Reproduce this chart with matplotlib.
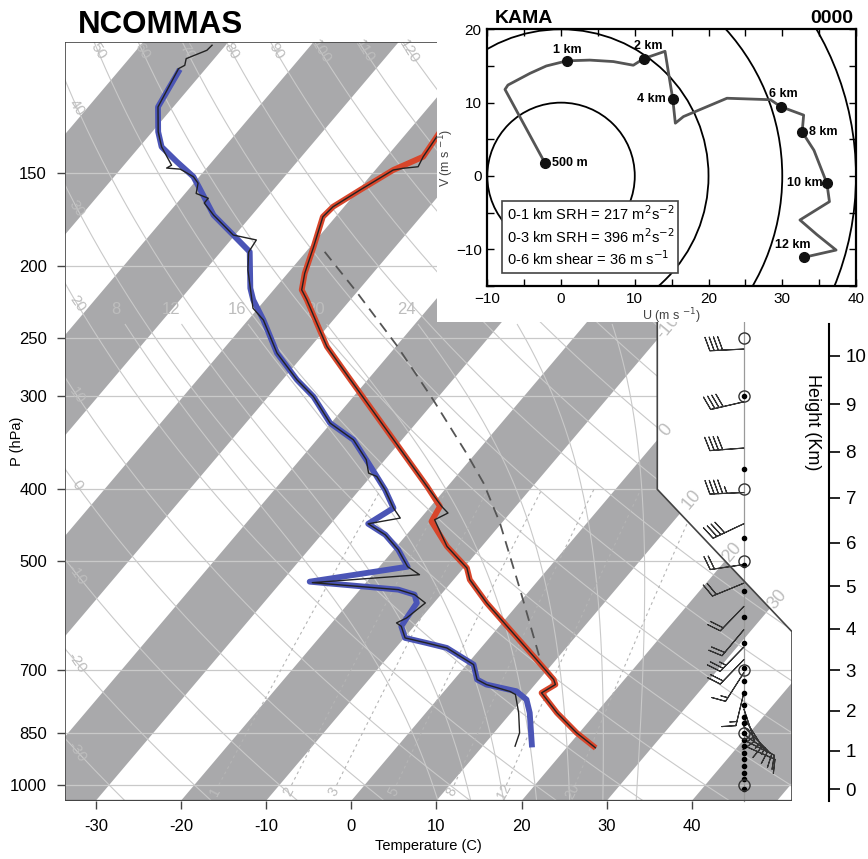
import numpy as np
import matplotlib
import matplotlib.pyplot as plt
from matplotlib.patches import Polygon, Rectangle, Circle
from matplotlib.transforms import Affine2D

matplotlib.use('Agg')
plt.rcParams['font.family'] = ['Liberation Sans', 'DejaVu Sans']

# ---- sounding (degC, hPa) ----
temp_p = [119.8, 134.1, 142.7, 148.7, 158.2, 166.6, 171.9, 188.6, 204.8, 215.6,
          222.4, 244.1, 257.0, 282.1, 336.1, 396.5, 421.8, 441.9, 477.4, 510.5,
          529.3, 568.9, 617.9, 678.1, 721.3, 732.6, 751.7, 799.7, 850.8, 886.8]
temp_c = [-56.9, -56.1, -55.7, -57.9, -59.8, -61.3, -61.5, -59.6, -58.0, -56.7,
          -55.1, -50.6, -48.1, -42.6, -32.2, -22.4, -18.9, -18.4, -14.1, -9.6,
          -8.1, -3.8, 1.6, 7.7, 11.7, 12.4, 11.6, 15.4, 19.7, 23.0]

obs_t_p = [119.8, 134.1, 142.7, 147.2, 147.9, 148.7, 158.2, 166.6, 171.9, 188.6,
           204.8, 215.6, 222.4, 244.1, 257.0, 282.1, 336.1, 396.5, 421.8, 430.5,
           439.6, 477.4, 510.5, 529.3, 568.9, 617.9, 678.1, 721.3, 732.6, 751.7,
           799.7, 850.8, 891.2]
obs_t_c = [-56.9, -56.1, -55.7, -55.3, -56.9, -57.9, -59.8, -61.3, -61.5, -59.6,
           -58.0, -56.7, -55.1, -50.6, -48.1, -42.6, -32.2, -22.4, -18.7, -17.3,
           -18.2, -14.1, -9.6, -8.1, -3.8, 1.6, 7.7, 11.7, 12.4, 11.6,
           15.4, 19.7, 23.4]

dwpt_p = [109.7, 122.3, 132.1, 138.4, 145.0, 151.8, 157.4, 171.0, 181.9, 191.6,
          214.5, 222.4, 236.7, 262.3, 284.9, 300.1, 325.8, 343.1, 365.0, 384.4,
          400.6, 423.9, 445.1, 460.5, 482.3, 508.4, 532.6, 545.9, 554.4, 568.9,
          595.9, 611.6, 634.0, 643.9, 654.0, 688.6, 721.3, 732.6, 748.0, 767.5,
          799.7, 882.1]
dwpt_c = [-92.9, -91.8, -89.3, -87.4, -84.1, -80.7, -78.8, -74.5, -70.2, -66.6,
          -62.9, -61.4, -58.2, -53.3, -48.3, -44.7, -40.1, -35.7, -32.2, -29.3,
          -27.0, -24.2, -25.6, -22.5, -19.5, -16.7, -26.7, -15.5, -13.1, -12.0,
          -11.7, -11.5, -9.9, -6.9, -4.0, 0.8, 2.7, 4.3, 8.5, 10.5,
          12.2, 15.6]

obs_d_p = [101.0, 102.6, 105.3, 107.5, 108.6, 122.3, 132.1, 138.4, 146.5, 147.8,
           148.3, 151.8, 154.9, 159.9, 162.3, 164.7, 171.0, 181.9, 184.7, 191.8,
           202.7, 214.5, 228.2, 236.7, 262.3, 284.9, 300.1, 325.8, 343.1, 365.0,
           380.4, 384.4, 400.6, 423.9, 437.3, 445.1, 460.5, 482.3, 508.4, 521.2,
           534.2, 545.9, 554.4, 568.9, 595.9, 605.2, 611.6, 634.0, 643.9, 654.0,
           688.6, 721.3, 732.6, 748.7, 755.6, 799.7, 850.8, 886.8]
obs_d_c = [-91.6, -91.7, -93.3, -92.8, -93.2, -91.8, -89.3, -87.4, -84.4, -84.7,
           -83.0, -80.7, -79.5, -78.7, -76.8, -76.8, -74.5, -70.2, -67.0, -66.7,
           -65.0, -62.9, -60.6, -58.2, -53.3, -48.3, -44.7, -40.1, -35.7, -32.2,
           -30.6, -29.3, -27.0, -24.2, -22.4, -25.6, -22.5, -19.5, -16.7, -14.5,
           -26.3, -15.5, -13.1, -11.0, -11.7, -12.4, -11.5, -9.9, -6.9, -4.0,
           0.8, 2.7, 4.3, 7.8, 8.7, 10.9, 13.0, 13.8]

parcel_p = [191.6, 216.8, 255.7, 303.2, 357.6, 392.4, 444.1, 545.9, 674.5]
parcel_c = [-57.8, -50.1, -40.1, -30.3, -21.1, -16.1, -10.2, -1.2, 7.9]

# wind barbs (m/s)
barb_p = [259, 305, 352, 404, 445, 505, 535, 575, 618, 652, 678, 706, 751,
          790, 812, 835, 855, 870, 885]
barb_u = [40, 39, 40, 45, 36, 20, 18.5, 14, 13, 17.5, 14, 8, 3.5,
          -4, -7, -9, -10, -10, -9]
barb_v = [2, 9, 3, 2, 17, 3, 7.6, 14.5, 15.5, 18, 14.5, 12.5, 14.5,
          12, 11, 9, 7, 5, 4]
dot_p = [300, 376, 465, 505, 549, 595, 644, 696, 725, 752, 781, 810, 825,
         851, 869, 887, 905, 924, 943, 963, 983, 1014]
ring_p = [250, 300, 400, 500, 700, 850, 1000]

# hodograph
hodo_u = [-2.2, -7.6, -7.2, -4.2, -2.0, 0.8, 3.9, 7.1, 9.8, 11.2, 14.1, 15.15, 15.5,
          16.6, 22.5, 28.4, 29.8, 32.9, 32.7, 34.3, 36.05, 36.4, 32.4, 34.7, 37.3, 32.9]
hodo_v = [1.8, 11.8, 12.4, 14.0, 15.0, 15.7, 15.8, 15.6, 15.1, 16.0, 17.0, 10.5, 7.2,
          8.1, 10.6, 10.4, 9.45, 8.3, 6.0, 3.5, -1.0, -3.5, -6.0, -8.0, -10.1, -11.1]
mark_lbl = ['500 m', '1 km', '2 km', '4 km', '6 km', '8 km', '10 km', '12 km']
mark_u = [-2.2, 0.8, 11.2, 15.15, 29.8, 32.7, 36.05, 32.9]
mark_v = [1.8, 15.7, 16.0, 10.5, 9.45, 6.0, -1.0, -11.1]
stats = ['0-1 km SRH = 217 m$^2$s$^{-2}$',
         '0-3 km SRH = 396 m$^2$s$^{-2}$',
         '0-6 km shear = 36 m s$^{-1}$']

P_BOT, P_TOP = 1050., 100.
X_MIN, X_MAX = -33.62, 51.75
SKEW = 32.138          # degC per ln(p), NCL skewT geometry
W_PX, H_PX = 868, 859

fig = plt.figure(figsize=(W_PX / 100, H_PX / 100), dpi=100)
ax = fig.add_axes([65 / W_PX, 58.3 / H_PX, 727 / W_PX, 758.7 / H_PX])
ax.set_yscale('log')
ax.set_xlim(X_MIN, X_MAX)
ax.set_ylim(P_BOT, P_TOP)
for sp in ax.spines.values():
    sp.set_visible(False)

bb = ax.get_position()
x0, y0 = bb.x0 * W_PX, bb.y0 * H_PX
s = SKEW * (bb.width * W_PX / (X_MAX - X_MIN)) / (bb.height * H_PX / np.log(P_BOT / P_TOP))
skew = ax.transData + Affine2D().translate(-x0, -y0).skew(np.arctan(s), 0).translate(x0, y0)


def xpos(t, p):
    return np.asarray(t) + SKEW * np.log(P_BOT / np.asarray(p))


outline = Polygon([(0, 0), (0, 1), (0.8147, 1), (0.8147, 0.4104), (1, 0.2228), (1, 0)],
                  closed=True, transform=ax.transAxes, facecolor='none',
                  edgecolor='#444444', lw=1.2, zorder=8)
ax.add_patch(outline)


def clipped(arts):
    for a in arts:
        a.set_clip_path(outline)


# shaded isotherm bands
for t0 in range(-120, 60, 20):
    band = Polygon([(t0, P_BOT), (t0 + 10, P_BOT), (t0 + 10, P_TOP), (t0, P_TOP)],
                   transform=skew, facecolor='#a9a9ab', edgecolor='none', zorder=1)
    ax.add_patch(band)
    band.set_clip_path(outline)

LINE_C = '#c9c9c9'
LBL_C = '#bdbdbd'
isobars = [150, 200, 250, 300, 400, 500, 700, 850, 1000]
clipped([ax.axhline(p, color=LINE_C, lw=0.9, zorder=2) for p in isobars])

# dry adiabats
pp = np.geomspace(P_BOT, P_TOP, 200)
for th in range(-30, 180, 10):
    tt = (th + 273.15) * (pp / 1000.) ** 0.2857 - 273.15
    clipped(ax.plot(tt, pp, color=LINE_C, lw=0.8, transform=skew, zorder=2))
    xx = xpos(tt, pp)
    xt = np.interp(103, pp[::-1], xx[::-1])
    if X_MIN + 1 < xt < 9:
        ax.text(xt, 103, str(th), color=LBL_C, fontsize=11, rotation=-58,
                ha='center', va='center', zorder=3)
    elif xt <= X_MIN + 1 and xx[0] > X_MIN + 1.4:
        pl = np.interp(X_MIN + 1.4, xx[::-1], pp[::-1])
        tl = np.interp(pl, pp[::-1], tt[::-1])
        ax.text(tl, pl, str(th), color=LBL_C, fontsize=11, rotation=-55,
                ha='center', va='center', transform=skew, zorder=3)


# moist adiabats
def lapse(p, T):
    es = 6.112 * np.exp(17.67 * (T - 273.15) / (T - 29.65))
    rs = 0.622 * es / (p - es)
    return ((287.04 * T + 2.501e6 * rs) / p) / (1005.7 + 2.501e6 ** 2 * rs * 0.622 / (287.04 * T * T))


def moist(tw, p_end, dp):
    T = tw + 273.15
    p = 1000.
    ps, ts = [p], [T]
    while (p - p_end) * np.sign(-dp) > 1e-6:
        step = dp if abs(p_end - p) > abs(dp) else (p_end - p)
        k1 = lapse(p, T)
        k2 = lapse(p + step / 2, T + k1 * step / 2)
        k3 = lapse(p + step / 2, T + k2 * step / 2)
        k4 = lapse(p + step, T + k3 * step)
        T += step * (k1 + 2 * k2 + 2 * k3 + k4) / 6
        p += step
        ps.append(p)
        ts.append(T)
    return np.array(ps), np.array(ts) - 273.15


for tw in range(8, 36, 4):
    pu, tu = moist(tw, 229, -4.)
    pd, td = moist(tw, P_BOT, 5.)
    keep = pu >= 239
    pm = np.concatenate([pd[::-1], pu[1:][keep[1:]]])
    tm = np.concatenate([td[::-1], tu[1:][keep[1:]]])
    clipped(ax.plot(tm, pm, color=LINE_C, lw=0.8, transform=skew, zorder=2))
    if xpos(tu[-1], pu[-1]) < 9:
        ax.text(tu[-1], pu[-1], str(tw), color=LBL_C, fontsize=12,
                ha='center', va='center', transform=skew, zorder=3)

# mixing ratio lines
pw = np.geomspace(1000, 400, 60)
for w in [1, 2, 3, 5, 8, 12, 20]:
    e = w * pw / (622. + w)
    lg = np.log(e / 6.112)
    clipped(ax.plot(243.5 * lg / (17.67 - lg), pw, color='#b5b5b5', lw=0.8,
                    ls=(0, (2.5, 3)), transform=skew, zorder=2))
    e0 = w * 1020. / (622. + w)
    l0 = np.log(e0 / 6.112)
    ax.text(243.5 * l0 / (17.67 - l0), 1020, str(w), color=LBL_C, fontsize=10,
            rotation=62, ha='center', va='center', transform=skew, zorder=3)

# isotherm labels along the cut edge
for tl, pl in zip([-10, 0, 10, 20, 30], [242, 333, 413, 487, 563]):
    ax.text(tl, pl, str(tl), color=LBL_C, fontsize=13, rotation=50,
            ha='center', va='center', transform=skew, zorder=3)

# sounding
clipped(ax.plot(parcel_c, parcel_p, color='#555555', lw=1.3, ls=(0, (6, 4)),
                transform=skew, zorder=4))
clipped(ax.plot(dwpt_c, dwpt_p, color='#4b55b6', lw=4.2, transform=skew, zorder=5,
                solid_joinstyle='round'))
clipped(ax.plot(temp_c, temp_p, color='#d8462b', lw=4.2, transform=skew, zorder=5,
                solid_joinstyle='round'))
clipped(ax.plot(obs_d_c, obs_d_p, color='#222222', lw=1.0, transform=skew, zorder=6))
clipped(ax.plot(obs_t_c, obs_t_p, color='#222222', lw=1.0, transform=skew, zorder=6))

# wind profile column
X_COL = 46.1
ax.plot([X_COL, X_COL], [238, P_BOT], color='#9a9a9a', lw=0.9, zorder=6, clip_on=False)
ax.barbs(np.full(len(barb_p), X_COL), barb_p, barb_u, barb_v, length=7,
         color='#333333', lw=0.8, zorder=7, clip_on=False)
ax.plot(np.full(len(dot_p), X_COL), dot_p, 'o', ms=3, color='black', zorder=8, clip_on=False)
ax.plot(np.full(len(ring_p), X_COL), ring_p, 'o', ms=8, mfc='none', mec='#333333',
        mew=1.0, zorder=8, clip_on=False)

ax.set_xticks(range(-30, 50, 10))
ax.set_xticklabels([str(v) for v in range(-30, 50, 10)])
ax.set_yticks(isobars)
ax.set_yticklabels([str(v) for v in isobars])
ax.yaxis.set_minor_locator(matplotlib.ticker.NullLocator())
ax.tick_params(direction='out', length=6, width=1.0, color='#444444', labelsize=12, pad=7)
ax.set_xlabel('Temperature (C)', fontsize=10.5, labelpad=4)
ax.set_ylabel('P (hPa)', fontsize=10.5)
ax.yaxis.set_label_coords(-0.056, 0.474)
fig.text(78 / W_PX, 1 - 33.3 / H_PX, 'NCOMMAS', fontsize=22.5, fontweight='bold',
         va='baseline', ha='left')

# height axis
axh = fig.add_axes([828 / W_PX, 58.3 / H_PX, 0.001, 758.7 / H_PX])
axh.set_yscale('log')
axh.set_ylim(P_BOT, P_TOP)
axh.set_xticks([])
axh.patch.set_visible(False)
for k in ['left', 'top', 'bottom']:
    axh.spines[k].set_visible(False)
axh.spines['right'].set_bounds(240, P_BOT)
axh.spines['right'].set_linewidth(1.5)
hkm = np.arange(0, 11)
axh.yaxis.tick_right()
axh.set_yticks(1013.25 * (1 - 2.25577e-5 * hkm * 1000.) ** 5.25588)
axh.set_yticklabels([str(h) for h in hkm])
axh.yaxis.set_minor_locator(matplotlib.ticker.NullLocator())
axh.tick_params(direction='out', length=8, width=1.2, labelsize=13.5, pad=4)
fig.text(812 / W_PX, 1 - 422 / H_PX, 'Height (Km)', fontsize=13, rotation=-90,
         ha='center', va='center')

# white panel behind hodograph
bg = fig.add_axes([437 / W_PX, 1 - 322 / H_PX, (W_PX - 437) / W_PX, 322 / H_PX])
bg.set_facecolor('white')
bg.set_xticks([])
bg.set_yticks([])
for sp in bg.spines.values():
    sp.set_visible(False)

# hodograph
hx = fig.add_axes([487.3 / W_PX, 1 - 286 / H_PX, 368.7 / W_PX, 256.7 / H_PX])
hx.set_xlim(-10, 40)
hx.set_ylim(-15, 20)
for r in [10, 20, 30, 40]:
    hx.add_patch(Circle((0, 0), r, fill=False, ec='black', lw=1.3))
hx.plot(hodo_u, hodo_v, color='#555555', lw=2.0, zorder=3)
hx.plot(mark_u, mark_v, 'o', color='#111111', ms=7, zorder=4)
offs = [(5, 0, 'left'), (0, 8, 'center'), (3, 9, 'center'), (-5, 0, 'right'),
        (2, 9, 'center'), (5, 0, 'left'), (-3, 0, 'right'), (-8, 9, 'center')]
for lb, u, v, (dx, dy, ha) in zip(mark_lbl, mark_u, mark_v, offs):
    hx.annotate(lb, (u, v), xytext=(dx, dy), textcoords='offset points', ha=ha,
                va='center', fontsize=9, fontweight='bold', zorder=5)
hx.add_patch(Rectangle((-8.0, -13.2), 23.8, 9.8, fill=True, fc='white',
                       ec='#444444', lw=1.2, zorder=6))
for txt, vy in zip(stats, [-5.1, -8.3, -11.3]):
    hx.text(-7.3, vy, txt, fontsize=10.5, va='center', ha='left', zorder=7)
hx.set_xticks([-10, 0, 10, 20, 30, 40])
hx.set_xticklabels(['\u221210', '0', '10', '20', '30', '40'])
hx.set_yticks([-10, 0, 10, 20])
hx.set_yticklabels(['\u221210', '0', '10', '20'])
hx.set_xticks(np.arange(-5, 40, 10), minor=True)
hx.set_yticks(np.arange(-15, 20, 10), minor=True)
hx.tick_params(which='both', direction='in', top=True, right=True, length=5,
               width=1.0, labelsize=11, pad=4)
for sp in hx.spines.values():
    sp.set_linewidth(1.6)
hx.set_xlabel('U (m s $^{-1}$)', fontsize=9, color='#444444', labelpad=0.5)
hx.set_ylabel('V (m s $^{-1}$)', fontsize=9, color='#444444', labelpad=0)
fig.text(495 / W_PX, 1 - 23.3 / H_PX, 'KAMA', fontsize=14, fontweight='bold',
         va='baseline', ha='left')
fig.text(853 / W_PX, 1 - 23.3 / H_PX, '0000', fontsize=14, fontweight='bold',
         va='baseline', ha='right')

fig.savefig('out.png', dpi=100)
